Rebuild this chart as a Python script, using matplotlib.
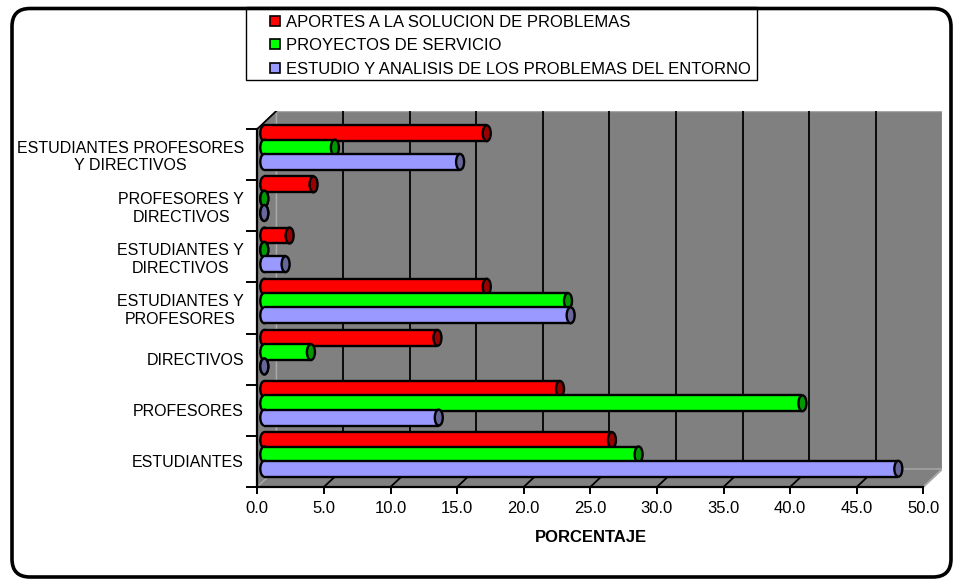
import numpy as np
import matplotlib.pyplot as plt
from matplotlib.patches import Ellipse, Polygon, Rectangle, FancyBboxPatch, Patch
from matplotlib.transforms import IdentityTransform

plt.rcParams['font.family'] = ['Liberation Sans', 'DejaVu Sans']

# datos (porcentaje)
categorias = ['ESTUDIANTES', 'PROFESORES', 'DIRECTIVOS',
              'ESTUDIANTES Y\nPROFESORES', 'ESTUDIANTES Y\nDIRECTIVOS',
              'PROFESORES Y\nDIRECTIVOS', 'ESTUDIANTES PROFESORES\nY DIRECTIVOS']
aportes = [26.1, 22.2, 13.0, 16.7, 1.9, 3.7, 16.7]
proyectos = [28.1, 40.4, 3.5, 22.8, 0.0, 0.0, 5.3]
estudio = [47.6, 13.1, 0.0, 23.0, 1.6, 0.0, 14.7]
series = ['APORTES A LA SOLUCION DE PROBLEMAS', 'PROYECTOS DE SERVICIO',
          'ESTUDIO Y ANALISIS DE LOS PROBLEMAS DEL ENTORNO']
xticks = np.arange(0, 55, 5)

colores = ['#ff0000', '#00ff00', '#9999ff']
tapas = ['#990000', '#009900', '#666699']

W, H = 955, 580
fig = plt.figure(figsize=(W / 100, H / 100), dpi=100)

def fx(px):
    return px / W

def fy(py):
    return 1 - py / H

# geometria del plano frontal (pixeles)
x0, x50 = 257.3, 923.3
ybot, ytop = 487, 129
ppu = (x50 - x0) / 50
ppc = (ybot - ytop) / 7
ddx = 19 / ppu   # profundidad
ddy = 18 / ppc
dxb = 7 / ppu    # posicion de las barras en profundidad
dyb = 7 / ppc

ax = fig.add_axes([fx(x0), fy(ybot), (x50 + 19 - x0) / W, (ybot - ytop + 18) / H])
ax.set_xlim(0, 50 + ddx)
ax.set_ylim(0, 7 + ddy)
ax.patch.set_visible(False)
for s in ax.spines.values():
    s.set_visible(False)

gris = '#808080'
borde = '#a8a8a8'
# pared del fondo, pared izquierda y piso
ax.add_patch(Polygon([(ddx, ddy), (50 + ddx, ddy), (50 + ddx, 7 + ddy), (ddx, 7 + ddy)],
                     closed=True, fc=gris, ec=borde, lw=1, zorder=0))
ax.add_patch(Polygon([(0, 0), (ddx, ddy), (ddx, 7 + ddy), (0, 7)],
                     closed=True, fc=gris, ec=borde, lw=1, zorder=0))
ax.add_patch(Polygon([(0, 0), (50, 0), (50 + ddx, ddy), (ddx, ddy)],
                     closed=True, fc=gris, ec=borde, lw=1, zorder=0))
for v in xticks[1:-1]:
    ax.plot([v + ddx, v + ddx], [ddy, 7 + ddy], color='black', lw=1.3, zorder=1)
for v in xticks[1:]:
    ax.plot([v, v + ddx], [0, ddy], color='black' if v < 50 else borde, lw=1.3, zorder=1)
ax.plot([0, ddx], [7, 7 + ddy], color='black', lw=1.3, zorder=1)

# barras cilindricas
valores = [aportes, proyectos, estudio]
desp = [0.28, 0.0, -0.28]
h = 0.31
we = 8 / ppu
for k, vals in enumerate(valores):
    z = 3 + 3 * k
    for i, v in enumerate(vals):
        yc = i + 0.5 + dyb + desp[k]
        ax.add_patch(Ellipse((dxb, yc), we, h, fc=colores[k], ec='black', lw=1.7, zorder=z))
        ax.barh(yc, v, left=dxb, height=h, color=colores[k], lw=0, zorder=z + 0.5)
        ax.hlines([yc - h / 2, yc + h / 2], dxb, dxb + v, colors='black', lw=1.7, zorder=z + 0.6)
        ax.add_patch(Ellipse((dxb + v, yc), we, h, fc=tapas[k], ec='black', lw=1.7, zorder=z + 1))

# ejes frontales
ax.plot([0, 50], [0, 0], color='black', lw=1.6, zorder=2, clip_on=False)
ax.plot([0, 0], [0, 7], color='black', lw=1.6, zorder=2, clip_on=False)

ax.set_xticks(xticks)
ax.set_xticklabels(['%.1f' % v for v in xticks])
ax.tick_params(axis='x', length=5, width=1.4, pad=5, labelsize=12)
ax.set_yticks(range(8))
ax.set_yticklabels([])
ax.set_yticks(np.arange(7) + 0.5, minor=True)
ax.set_yticklabels(categorias, minor=True, multialignment='center')
ax.tick_params(axis='y', which='major', length=8, width=1.4)
ax.tick_params(axis='y', which='minor', length=0, pad=9.5, labelsize=11.5)

fig.text(fx(591), fy(538), 'PORCENTAJE', ha='center', va='center',
         fontsize=12, fontweight='bold')

# marco exterior y cuadro de leyenda
fig.add_artist(Rectangle((246, H - 80), 511, 73, transform=IdentityTransform(),
                         fc='white', ec='black', lw=1, zorder=5))
fig.add_artist(FancyBboxPatch((12, 3), 939, 568.5, boxstyle='round,pad=0,rounding_size=18',
                              transform=IdentityTransform(), fc='none', ec='black',
                              lw=2.6, zorder=6))
handles = [Patch(fc=c, ec='black', lw=1.2) for c in colores]
leg = fig.legend(handles, series, loc='upper left', bbox_to_anchor=(fx(267), fy(11.5)),
                 frameon=False, fontsize=12, handlelength=0.55, handleheight=0.55,
                 handletextpad=0.4, labelspacing=0.5, borderaxespad=0, borderpad=0.2)
leg.set_zorder(7)

fig.savefig('out.png', dpi=100)
